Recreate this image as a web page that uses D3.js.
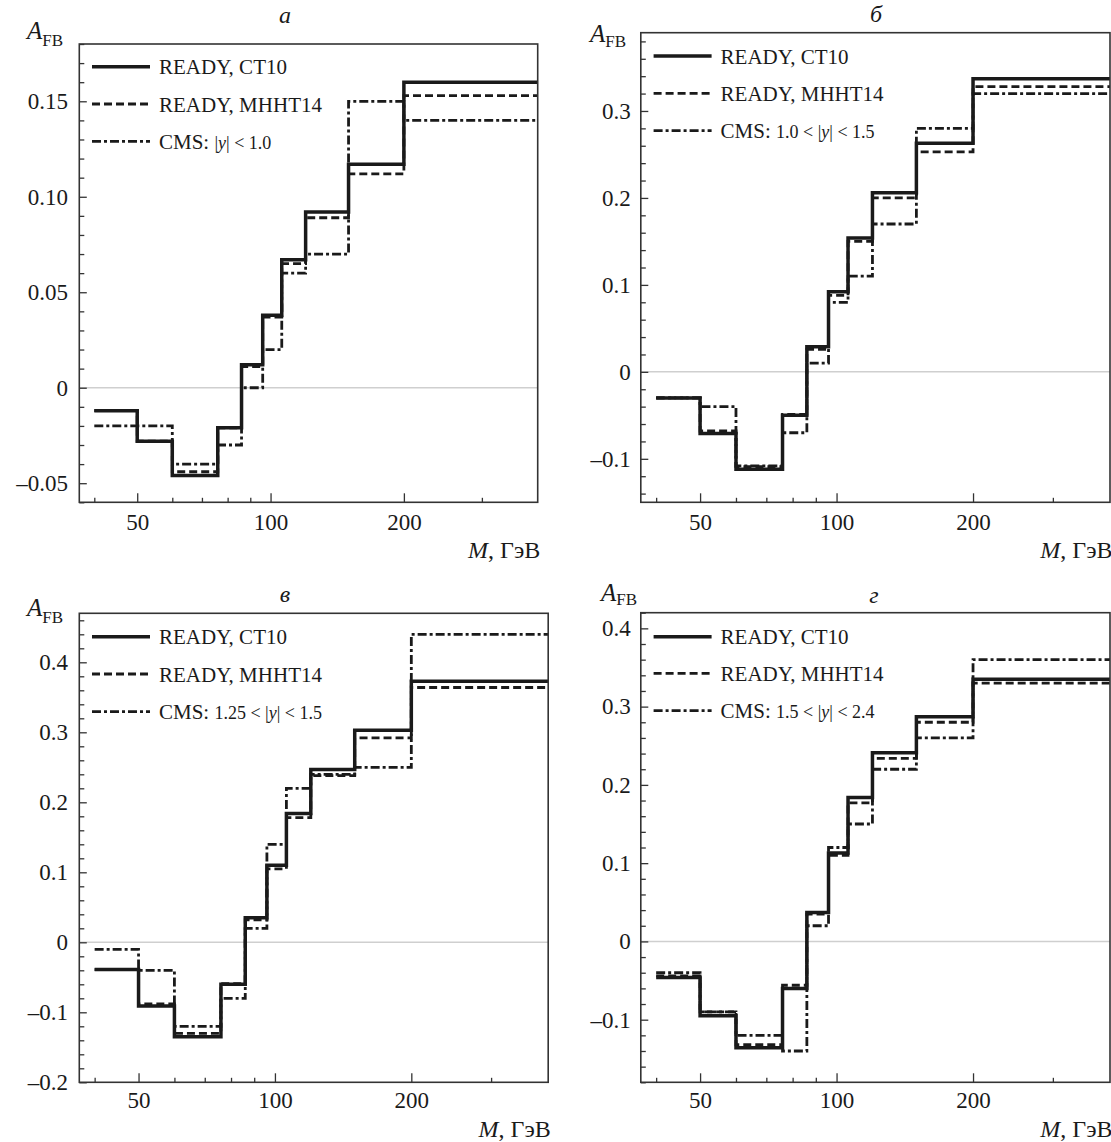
<!DOCTYPE html>
<html><head><meta charset="utf-8">
<script src="https://cdn.jsdelivr.net/npm/d3@7"></script>
<style>
body{margin:0;background:#fff}
text{font-family:"Liberation Serif","Times New Roman",serif;fill:#1a1a1a}
</style>
</head><body>
<svg id="c" width="1111" height="1142" font-family="Liberation Serif, Times New Roman, serif"></svg>
<script>
// ---- data ----
const massEdges = [40, 50, 60, 76, 86, 96, 106, 120, 150, 200];
const massDomain = [37, 401];
const xMajorTicks = [50, 100, 200];
const xMinorTicks = [40, 60, 70, 80, 90, 300];

const panelTitles = ["а", "б", "в", "г"];
const cmsRanges = ["|y| < 1.0", "1.0 < |y| < 1.5", "1.25 < |y| < 1.5", "1.5 < |y| < 2.4"];
const seriesNames = ["READY, CT10", "READY, MHHT14", "CMS: "];

// panel а
const ct10A = [-0.012, -0.028, -0.046, -0.021, 0.012, 0.038, 0.067, 0.092, 0.117, 0.160];
const mhhtA = [-0.012, -0.028, -0.044, -0.021, 0.011, 0.037, 0.065, 0.089, 0.112, 0.153];
const cmsA  = [-0.020, -0.020, -0.040, -0.030, 0.000, 0.020, 0.060, 0.070, 0.150, 0.140];
// panel б
const ct10B = [-0.030, -0.071, -0.112, -0.050, 0.029, 0.092, 0.154, 0.206, 0.263, 0.337];
const mhhtB = [-0.030, -0.068, -0.109, -0.049, 0.026, 0.088, 0.150, 0.200, 0.253, 0.328];
const cmsB  = [-0.030, -0.040, -0.108, -0.070, 0.010, 0.080, 0.110, 0.170, 0.280, 0.320];
// panel в
const ct10C = [-0.039, -0.091, -0.135, -0.060, 0.035, 0.110, 0.184, 0.247, 0.303, 0.373];
const mhhtC = [-0.039, -0.088, -0.130, -0.059, 0.032, 0.105, 0.178, 0.238, 0.292, 0.364];
const cmsC  = [-0.010, -0.040, -0.120, -0.080, 0.020, 0.140, 0.220, 0.240, 0.250, 0.440];
// panel г
const ct10D = [-0.046, -0.095, -0.136, -0.060, 0.037, 0.113, 0.184, 0.241, 0.287, 0.335];
const mhhtD = [-0.044, -0.090, -0.132, -0.056, 0.035, 0.110, 0.177, 0.234, 0.280, 0.330];
const cmsD  = [-0.040, -0.090, -0.120, -0.140, 0.020, 0.120, 0.150, 0.220, 0.260, 0.360];

const yDomains = [[-0.06, 0.18], [-0.15, 0.39], [-0.2, 0.47], [-0.18, 0.42]];
const yTicksA = [-0.05, 0, 0.05, 0.10, 0.15];
const yLabelsA = ["–0.05", "0", "0.05", "0.10", "0.15"];
const yTicksB = [-0.1, 0, 0.1, 0.2, 0.3];
const yLabelsB = ["–0.1", "0", "0.1", "0.2", "0.3"];
const yTicksC = [-0.2, -0.1, 0, 0.1, 0.2, 0.3, 0.4];
const yLabelsC = ["–0.2", "–0.1", "0", "0.1", "0.2", "0.3", "0.4"];
const yTicksD = [-0.1, 0, 0.1, 0.2, 0.3, 0.4];
const yLabelsD = ["–0.1", "0", "0.1", "0.2", "0.3", "0.4"];
const yMinorStep = [0.01, 0.02, 0.02, 0.02];

// ---- layout ----
const layout = [
  {x0:79.3, x1:537.7, y0:44,    y1:502.3, titleX:285, titleY:23,
   aX:27,  aY:39,  subDy:7, legX:92,    legY:[66.7,104,141.3], xLabY:530, axLabY:557.5, pad:11.4},
  {x0:640.8, x1:1110, y0:32.7,  y1:502.3, titleX:876, titleY:22,
   aX:590, aY:41.5, subDy:5, legX:653.6, legY:[56,93.3,130.7], xLabY:530, axLabY:558, pad:10},
  {x0:79.3, x1:548.2, y0:613.3, y1:1082.3, titleX:285, titleY:602,
   aX:27,  aY:616, subDy:7, legX:92,    legY:[636.7,674,711.7], xLabY:1108.3, axLabY:1136.7, pad:11.4},
  {x0:640.8, x1:1110, y0:612.7, y1:1082.3, titleX:874, titleY:602.5,
   aX:601, aY:601, subDy:4, legX:653.6, legY:[636.7,673.3,710.7], xLabY:1108.3, axLabY:1136.7, pad:10}
];

const panelData = [
  {series:[ct10A, mhhtA, cmsA], ticks:yTicksA, labels:yLabelsA},
  {series:[ct10B, mhhtB, cmsB], ticks:yTicksB, labels:yLabelsB},
  {series:[ct10C, mhhtC, cmsC], ticks:yTicksC, labels:yLabelsC},
  {series:[ct10D, mhhtD, cmsD], ticks:yTicksD, labels:yLabelsD}
];

const styles = [
  {w:3.5, dash:null},
  {w:2.8, dash:"8,4"},
  {w:2.8, dash:"9,3,3,3"}
];
const ink = "#1a1a1a";
const svg = d3.select("#c");

panelData.forEach((pd, p) => {
  const L = layout[p];
  const x = d3.scaleLog().domain(massDomain).range([L.x0, L.x1]);
  const y = d3.scaleLinear().domain(yDomains[p]).range([L.y1, L.y0]);
  const g = svg.append("g");

  const clipId = "clip" + p;
  g.append("clipPath").attr("id", clipId).append("rect")
    .attr("x", L.x0).attr("y", L.y0).attr("width", L.x1 - L.x0).attr("height", L.y1 - L.y0);

  // zero line
  g.append("line").attr("x1", L.x0).attr("x2", L.x1).attr("y1", y(0)).attr("y2", y(0))
    .attr("stroke", "#cfcfcf").attr("stroke-width", 1.5);

  // step lines (CMS first, then MHHT, then CT10 on top)
  const line = d3.line().x(d => x(d[0])).y(d => y(d[1])).curve(d3.curveStepAfter);
  [2, 1, 0].forEach(si => {
    const vals = pd.series[si];
    const pts = massEdges.map((e, i) => [e, vals[i]]);
    pts.push([massDomain[1], vals[vals.length - 1]]);
    g.append("path").attr("d", line(pts)).attr("clip-path", `url(#${clipId})`)
      .attr("fill", "none").attr("stroke", ink).attr("stroke-width", styles[si].w)
      .attr("stroke-dasharray", styles[si].dash);
  });

  // axes: bottom
  const xAx = g.append("g").attr("transform", `translate(0,${L.y1})`)
    .call(d3.axisBottom(x).tickValues(xMajorTicks).tickFormat(d3.format("d"))
      .tickSizeInner(-9).tickSizeOuter(0).tickPadding(L.xLabY - L.y1 - 16.3));
  const xAxMin = g.append("g").attr("transform", `translate(0,${L.y1})`)
    .call(d3.axisBottom(x).tickValues(xMinorTicks).tickFormat("").tickSizeInner(-4.5).tickSizeOuter(0));
  // left
  const yAx = g.append("g").attr("transform", `translate(${L.x0},0)`)
    .call(d3.axisLeft(y).tickValues(pd.ticks).tickFormat((d, i) => pd.labels[i])
      .tickSizeInner(-7.5).tickSizeOuter(0).tickPadding(L.pad));
  const dom = yDomains[p];
  const minor = d3.range(Math.ceil(dom[0] / yMinorStep[p] - 1e-6), Math.floor(dom[1] / yMinorStep[p] + 1e-6) + 1)
    .map(k => +(k * yMinorStep[p]).toFixed(4))
    .filter(v => !pd.ticks.some(t => Math.abs(t - v) < 1e-6));
  const yAxMin = g.append("g").attr("transform", `translate(${L.x0},0)`)
    .call(d3.axisLeft(y).tickValues(minor).tickFormat("").tickSizeInner(-5).tickSizeOuter(0));
  [xAx, xAxMin, yAx, yAxMin].forEach(a => {
    a.attr("font-family", null);
    a.select(".domain").remove();
    a.selectAll("line").attr("stroke", "#333").attr("stroke-width", 1.3);
    a.selectAll("text").attr("font-size", 23).attr("fill", ink)
      .style("font-family", '"Liberation Serif","Times New Roman",serif');
  });

  // frame
  g.append("rect").attr("x", L.x0).attr("y", L.y0).attr("width", L.x1 - L.x0).attr("height", L.y1 - L.y0)
    .attr("fill", "none").attr("stroke", "#333").attr("stroke-width", 1.6);

  // title
  g.append("text").attr("x", L.titleX).attr("y", L.titleY).attr("text-anchor", "middle")
    .attr("font-size", 24).attr("font-style", "italic").text(panelTitles[p]);

  // A_FB
  const at = g.append("text").attr("x", L.aX).attr("y", L.aY);
  at.append("tspan").attr("font-size", 25).attr("font-style", "italic").text("A");
  at.append("tspan").attr("font-size", 17).attr("dy", L.subDy).text("FB");

  // x axis label
  const mt = g.append("text").attr("x", L.x1 + 2.5).attr("y", L.axLabY).attr("text-anchor", "end").attr("font-size", 24);
  mt.append("tspan").attr("font-style", "italic").text("M");
  mt.append("tspan").text(", ГэВ");

  // legend
  [0, 1, 2].forEach(si => {
    const ly = L.legY[si];
    g.append("line").attr("x1", L.legX).attr("x2", L.legX + 58).attr("y1", ly).attr("y2", ly)
      .attr("stroke", ink).attr("stroke-width", styles[si].w).attr("stroke-dasharray", styles[si].dash);
    const t = g.append("text").attr("x", L.legX + 67).attr("y", ly + 7.5).attr("font-size", 21);
    if (si < 2) {
      t.text(seriesNames[si]);
    } else {
      t.append("tspan").text(seriesNames[2]);
      const parts = cmsRanges[p].split("y");
      t.append("tspan").attr("font-size", 18).text(parts[0]);
      t.append("tspan").attr("font-size", 18).attr("font-style", "italic").text("y");
      t.append("tspan").attr("font-size", 18).text(parts[1]);
    }
  });
});
</script>
</body></html>
